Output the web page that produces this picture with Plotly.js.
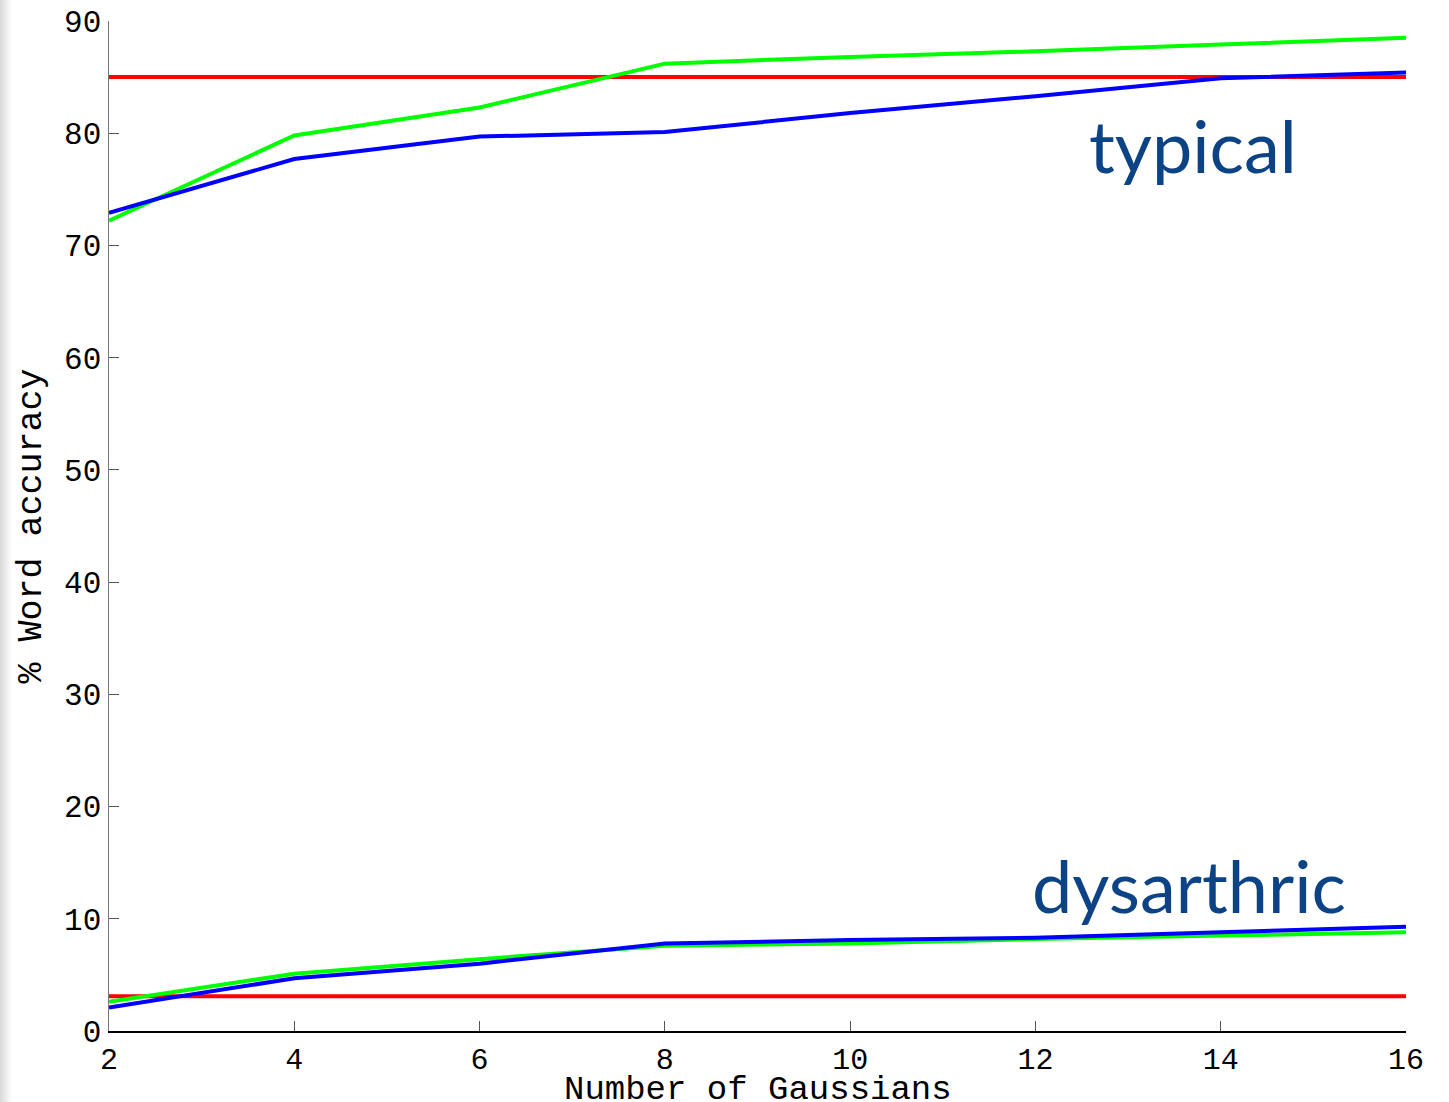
<!DOCTYPE html>
<html>
<head>
<meta charset="utf-8">
<script src="https://cdn.plot.ly/plotly-3.0.1.min.js"></script>
<style>
  html, body { margin: 0; padding: 0; background: #fff; }
  #wrap { position: relative; width: 1449px; height: 1102px; overflow: hidden; }
  #edge { position: absolute; left: 0; top: 0; width: 12px; height: 1102px;
          background: linear-gradient(to right, #d8d8d8, #f4f4f4 70%, #ffffff); z-index: 2; }
  #chart { position: absolute; left: 0; top: 0; width: 1449px; height: 1102px; }
</style>
</head>
<body>
<div id="wrap"><div id="edge"></div><div id="chart"></div></div>
<script>
// Number of Gaussians
const gaussians = [2, 4, 6, 8, 10, 12, 14, 16];

// typical speakers
const typicalBaseline = [85, 85, 85, 85, 85, 85, 85, 85];
const typicalGreen    = [72.2, 79.8, 82.3, 86.2, 86.8, 87.3, 87.9, 88.5];
const typicalBlue     = [72.9, 77.7, 79.7, 80.1, 81.8, 83.3, 84.9, 85.4];

// dysarthric speakers
const dysBaseline = [3.1, 3.1, 3.1, 3.1, 3.1, 3.1, 3.1, 3.1];
const dysGreen    = [2.6, 5.1, 6.4, 7.6, 7.8, 8.2, 8.5, 8.8];
const dysBlue     = [2.1, 4.7, 6.0, 7.8, 8.1, 8.3, 8.8, 9.3];

const xTicks = [2, 4, 6, 8, 10, 12, 14, 16];
const yTicks = [0, 10, 20, 30, 40, 50, 60, 70, 80, 90];

const labels = ["typical", "dysarthric"];
const labelX = [12.56, 11.94];
const labelY = [74.95, 9.0];

const xTitle = "Number of Gaussians";
const yTitle = "% Word accuracy";

const RED = "#ff0000", GREEN = "#00ff00", BLUE = "#0000ff";
function line(y, color) {
  return { x: gaussians, y: y, type: "scatter", mode: "lines",
           line: { color: color, width: 4 }, hoverinfo: "skip", showlegend: false };
}
const traces = [
  line(typicalBaseline, RED), line(typicalGreen, GREEN), line(typicalBlue, BLUE),
  line(dysBaseline, RED), line(dysGreen, GREEN), line(dysBlue, BLUE)
];

const mono = "'Courier New', 'Liberation Mono', 'DejaVu Sans Mono', monospace";
const annotations = labels.map((t, i) => ({
  x: labelX[i], y: labelY[i], xref: "x", yref: "y", text: t, showarrow: false,
  xanchor: "left", yanchor: "bottom",
  font: { family: "Lato, 'Open Sans', sans-serif", size: 72, color: "#0b4384" }
}));
// x-axis title placed just under the tick labels, as in the reference
annotations.push({
  x: 0.5, y: -0.0782, xref: "paper", yref: "paper", text: xTitle, showarrow: false,
  xanchor: "center", yanchor: "bottom", borderpad: 0,
  font: { family: mono, size: 34, color: "#000" }
});

const layout = {
  width: 1449, height: 1102,
  margin: { l: 109, r: 43, t: 21, b: 71 },
  paper_bgcolor: "#ffffff", plot_bgcolor: "#ffffff",
  showlegend: false,
  xaxis: {
    range: [2, 16], tickvals: xTicks, ticktext: xTicks.map(String),
    ticks: "inside", ticklen: 10, tickcolor: "#555", tickwidth: 1,
    showline: true, linecolor: "#000", linewidth: 1.5,
    showgrid: false, zeroline: false, mirror: false,
    tickfont: { family: mono, size: 30, color: "#000" }
  },
  yaxis: {
    range: [0, 90], tickvals: yTicks, ticktext: yTicks.map(String),
    ticks: "inside", ticklen: 10, tickcolor: "#555", tickwidth: 1,
    showline: true, linecolor: "#777", linewidth: 1.5,
    showgrid: false, zeroline: false, mirror: false,
    tickfont: { family: mono, size: 31, color: "#000" },
    title: { text: yTitle, font: { family: mono, size: 35, color: "#000" }, standoff: 12 }
  },
  annotations: annotations
};

Plotly.newPlot("chart", traces, layout, { staticPlot: true, displayModeBar: false });
</script>
</body>
</html>
